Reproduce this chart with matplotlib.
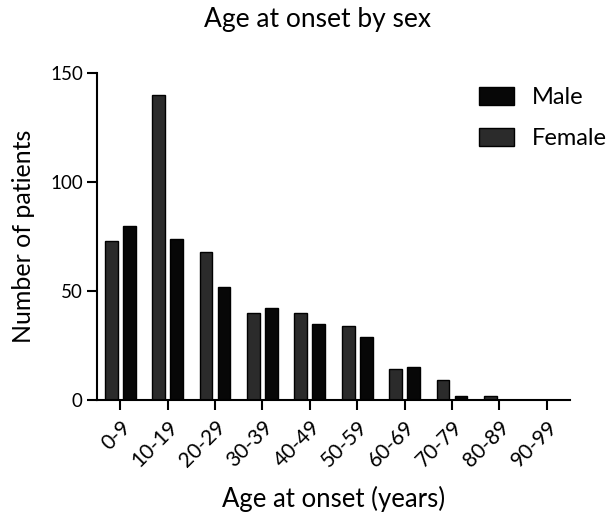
import numpy as np
import matplotlib.pyplot as plt
from matplotlib.patches import Patch

plt.rcParams.update({
    "font.family": ["Lato", "DejaVu Sans"],
    "font.size": 13.5,
    "axes.linewidth": 1.5,
})

age_groups = ["0-9", "10-19", "20-29", "30-39", "40-49", "50-59",
              "60-69", "70-79", "80-89", "90-99"]
female = [73, 140, 68, 40, 40, 34, 14, 9, 2, 0]
male = [80, 74, 52, 42, 35, 29, 15, 2, 0, 0]

female_color = "#2b2b2b"
male_color = "#070707"

W, H = 616, 513
fig = plt.figure(figsize=(W / 100, H / 100), dpi=100)
ax = fig.add_axes([97 / W, 113 / H, 473 / W, 327 / H])

x = np.arange(len(age_groups))
w = 0.27
ax.bar(x - 0.19, female, w, color=female_color, edgecolor="black", linewidth=1)
ax.bar(x + 0.19, male, w, color=male_color, edgecolor="black", linewidth=1)

ax.set_xlim(-0.49, len(age_groups) - 0.51)
ax.set_ylim(0, 150)
ax.set_yticks([0, 50, 100, 150])
ax.set_xticks(x)
ax.set_xticklabels(age_groups, rotation=45, ha="right", rotation_mode="anchor")
ax.tick_params(axis="both", length=7.2, width=1.5)
ax.tick_params(axis="x", pad=5, labelsize=15)
ax.tick_params(axis="y", pad=3, labelsize=13.5)
ax.spines["top"].set_visible(False)
ax.spines["right"].set_visible(False)

ax.set_xlabel("Age at onset (years)", fontsize=18.5)
ax.xaxis.set_label_coords(0.5, -(486 - 400) / 327)
ax.set_ylabel("Number of patients", fontsize=18)
ax.yaxis.set_label_coords(-(97 - 35) / 473, 0.5)
fig.text(318 / W, 1 - 27 / H, "Age at onset by sex", ha="center",
         va="baseline", fontsize=19)

handles = [Patch(facecolor=male_color, edgecolor="black", label="Male"),
           Patch(facecolor=female_color, edgecolor="black", label="Female")]
fig.legend(handles=handles, loc="upper left",
           bbox_to_anchor=(479 / W, 1 - 87 / H), frameon=False,
           borderpad=0, borderaxespad=0, handlelength=1.5, handleheight=0.8,
           labelspacing=0.82, handletextpad=0.75, fontsize=17)

fig.savefig("out.png", dpi=100)
